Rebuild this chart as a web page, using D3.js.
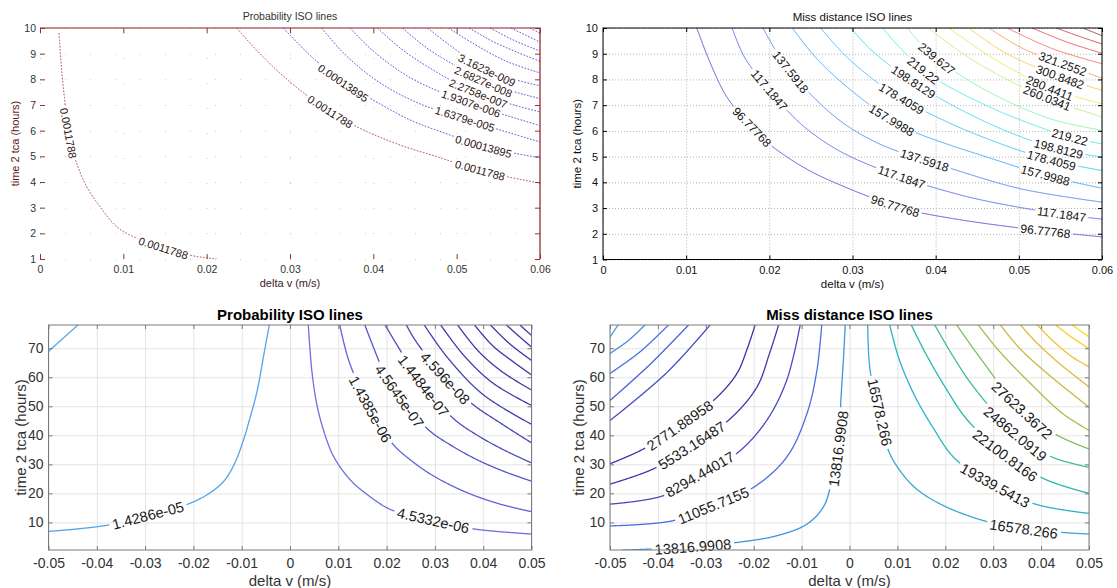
<!DOCTYPE html>
<html>
<head>
<meta charset="utf-8">
<script src="https://cdnjs.cloudflare.com/ajax/libs/d3/7.8.5/d3.min.js"></script>
<style>
  body { margin: 0; background: #fff; }
  svg { display: block; }
</style>
</head>
<body>
<svg id="chart" width="1117" height="588"></svg>
<script>
// ---------------- data ----------------

// top left: probability iso lines (old style plot)
const p1XTicks = [0, 0.01, 0.02, 0.03, 0.04, 0.05, 0.06];
const p1YTicks = [1, 2, 3, 4, 5, 6, 7, 8, 9, 10];
const p1Levels = ["0.0011788", "0.0011788", "0.00013895", "1.6379e-005", "1.9307e-006",
                  "2.2758e-007", "2.6827e-008", "3.1623e-009", null, null, null, null, null];
const p1Lines = [
  [[0.00228, 9.8], [0.0026, 8.36], [0.003, 7.07], [0.0034, 5.9], [0.0044, 4.73], [0.0056, 3.82], [0.0072, 3.04],
   [0.0092, 2.26], [0.0112, 1.87], [0.0148, 1.42], [0.0184, 1.12], [0.0212, 1.0]],
  [[0.0236, 10], [0.0256, 9.27], [0.0284, 8.36], [0.0312, 7.58], [0.0348, 6.74], [0.0384, 6.09], [0.0432, 5.44],
   [0.0476, 4.99], [0.0528, 4.45], [0.06, 3.95]],
  [[0.0292, 10], [0.0322, 9.0], [0.0364, 7.85], [0.0396, 7.26], [0.0444, 6.42], [0.0492, 5.83], [0.0532, 5.38], [0.06, 4.94]],
  [[0.0338, 10], [0.0365, 9.0], [0.0404, 7.95], [0.0452, 7.1], [0.051, 6.45], [0.06, 5.56]],
  [[0.0372, 10], [0.040, 9.1], [0.0445, 8.05], [0.0517, 7.05], [0.06, 6.2]],
  [[0.0405, 10], [0.0435, 9.15], [0.0475, 8.3], [0.0526, 7.44], [0.06, 6.73]],
  [[0.0435, 10], [0.0465, 9.2], [0.05, 8.5], [0.0532, 7.9], [0.06, 7.25]],
  [[0.0465, 10], [0.0495, 9.25], [0.0536, 8.35], [0.06, 7.75]],
  [[0.049, 10], [0.0525, 9.3], [0.056, 8.7], [0.06, 8.25]],
  [[0.0515, 10], [0.0545, 9.45], [0.06, 8.7]],
  [[0.054, 10], [0.057, 9.5], [0.06, 9.1]],
  [[0.0565, 10], [0.06, 9.45]],
  [[0.0588, 10], [0.06, 9.8]]
];
// [line index, x, y] of each inline label
const p1Labels = [[0, 0.0034, 5.9], [0, 0.0148, 1.42], [1, 0.0348, 6.74], [1, 0.0528, 4.45], [2, 0.0364, 7.85],
                  [2, 0.0532, 5.38], [3, 0.051, 6.45], [4, 0.0517, 7.05], [5, 0.0526, 7.44], [6, 0.0532, 7.9], [7, 0.0536, 8.35]];

// top right: miss distance iso lines
const p2XTicks = [0, 0.01, 0.02, 0.03, 0.04, 0.05, 0.06];
const p2YTicks = [1, 2, 3, 4, 5, 6, 7, 8, 9, 10];
const p2Levels = ["96.77768", "117.1847", "137.5918", "157.9988", "178.4059", "198.8129", "219.22", "239.627",
                  "260.0341", "280.4411", "300.8482", "321.2552", null, null, null, null];
const p2Lines = [
  [[0.01128, 10], [0.01277, 8.74], [0.01489, 7.32], [0.01787, 6.16], [0.02043, 5.38], [0.02468, 4.48], [0.02894, 3.84],
   [0.0347, 3.12], [0.03745, 2.87], [0.0417, 2.61], [0.04596, 2.4], [0.05021, 2.22], [0.0532, 2.1], [0.06, 1.88]],
  [[0.01553, 10], [0.017, 8.87], [0.02, 7.58], [0.02213, 6.8], [0.02468, 6.03], [0.02894, 5.13], [0.0359, 4.2],
   [0.0417, 3.62], [0.046, 3.28], [0.0551, 2.76], [0.06, 2.57]],
  [[0.01923, 10], [0.0209, 9.05], [0.02255, 8.29], [0.0255, 7.25], [0.0289, 6.3], [0.0332, 5.5], [0.0387, 4.85],
   [0.0417, 4.55], [0.0502, 3.75], [0.06, 3.23]],
  [[0.02277, 10], [0.02553, 8.87], [0.0289, 7.83], [0.0347, 6.41], [0.0375, 5.95], [0.0417, 5.45], [0.046, 5.0],
   [0.0532, 4.27], [0.06, 3.77]],
  [[0.02617, 10], [0.02894, 8.99], [0.0325, 8.0], [0.0359, 7.25], [0.0417, 6.3], [0.046, 5.72], [0.05, 5.25],
   [0.0539, 4.85], [0.06, 4.46]],
  [[0.02979, 10], [0.03234, 9.12], [0.0373, 7.9], [0.0417, 7.05], [0.046, 6.35], [0.05, 5.8], [0.0547, 5.3], [0.06, 4.98]],
  [[0.0336, 10], [0.0358, 9.2], [0.0385, 8.35], [0.0417, 7.7], [0.046, 7.0], [0.05, 6.45], [0.0561, 5.76], [0.06, 5.5]],
  [[0.0366, 10], [0.0383, 9.35], [0.0401, 8.81], [0.0438, 8.0], [0.048, 7.25], [0.054, 6.45], [0.06, 6.02]],
  [[0.0391, 10], [0.0435, 8.95], [0.048, 8.1], [0.0532, 7.3], [0.06, 6.54]],
  [[0.0416, 10], [0.046, 9.0], [0.05, 8.25], [0.0536, 7.67], [0.06, 7.05]],
  [[0.044, 10], [0.048, 9.1], [0.0549, 8.1], [0.06, 7.58]],
  [[0.0464, 10], [0.0505, 9.2], [0.0553, 8.6], [0.06, 8.05]],
  [[0.0486, 10], [0.054, 9.2], [0.06, 8.61]],
  [[0.0516, 10], [0.0558, 9.45], [0.06, 9.02]],
  [[0.0545, 10], [0.0575, 9.65], [0.06, 9.38]],
  [[0.0577, 10], [0.06, 9.7]]
];
const p2Labels = [[0, 0.0179, 6.16], [0, 0.0351, 3.04], [0, 0.0532, 2.1], [1, 0.0200, 7.58], [1, 0.0359, 4.2],
                  [1, 0.0551, 2.71], [2, 0.02255, 8.29], [2, 0.0387, 4.91], [3, 0.0347, 6.41], [3, 0.0532, 4.27],
                  [4, 0.0359, 7.25], [4, 0.0539, 4.85], [5, 0.0373, 7.9], [5, 0.0547, 5.24], [6, 0.0385, 8.35],
                  [6, 0.0561, 5.76], [7, 0.0401, 8.81], [8, 0.0532, 7.12], [9, 0.0536, 7.57], [10, 0.0549, 8.05],
                  [11, 0.0553, 8.61]];

// bottom left: probability iso lines (new style plot)
const p3XTicks = [-0.05, -0.04, -0.03, -0.02, -0.01, 0, 0.01, 0.02, 0.03, 0.04, 0.05];
const p3YTicks = [10, 20, 30, 40, 50, 60, 70];
const p3Levels = [null, "1.4286e-05", "4.5332e-06", "1.4385e-06", "4.5645e-07", "1.4484e-07", "4.596e-08",
                  null, null, null, null, null, null, null];
const p3Lines = [
  [[-0.05, 68.9], [-0.0472, 73.1], [-0.0439, 78]],
  [[-0.05, 6.9], [-0.0379, 9.0], [-0.0294, 12.4], [-0.0213, 16.2], [-0.0172, 19.5], [-0.0138, 24.0], [-0.0117, 29.5],
   [-0.0098, 37.5], [-0.0082, 46.5], [-0.0068, 55.3], [-0.0054, 67.9], [-0.0043, 78]],
  [[0.00379, 78], [0.0045, 62.6], [0.0055, 51.1], [0.0069, 42.0], [0.009, 32.8], [0.0124, 24.8], [0.0159, 19.7],
   [0.021, 14.3], [0.0297, 10.6], [0.0383, 7.7], [0.05, 6.0]],
  [[0.0103, 78], [0.0117, 68.3], [0.013, 62.0], [0.0166, 49.0], [0.0214, 36.8], [0.0248, 31.7], [0.0297, 26.0],
   [0.0366, 20.3], [0.0435, 16.3], [0.05, 13.7]],
  [[0.0155, 78], [0.0174, 69.8], [0.019, 63.5], [0.0226, 53.5], [0.0286, 42.0], [0.0331, 36.8], [0.0386, 31.7],
   [0.0441, 27.7], [0.05, 24.2]],
  [[0.0197, 78], [0.0222, 71.0], [0.0276, 57.0], [0.0341, 45.4], [0.0386, 40.2], [0.0441, 35.1], [0.05, 30.5]],
  [[0.0241, 78], [0.0259, 72.8], [0.0321, 59.7], [0.0379, 50.6], [0.0435, 44.3], [0.05, 37.4]],
  [[0.0278, 78], [0.0325, 67], [0.040, 54.0], [0.05, 43.8]],
  [[0.0312, 78], [0.036, 67.5], [0.042, 58.0], [0.05, 50.3]],
  [[0.0347, 78], [0.039, 69.0], [0.044, 61.8], [0.05, 55.6]],
  [[0.0382, 78], [0.042, 70.8], [0.046, 65.6], [0.05, 60.8]],
  [[0.0415, 78], [0.0455, 71.5], [0.05, 65.8]],
  [[0.0448, 78], [0.0475, 74.0], [0.05, 70.4]],
  [[0.0476, 78], [0.05, 74.4]]
];
const p3Labels = [[1, -0.0294, 12.4], [2, 0.0297, 10.6], [3, 0.0166, 49.0], [4, 0.0226, 53.5],
                  [5, 0.0276, 57.0], [6, 0.0321, 59.7]];

// bottom right: miss distance iso lines
const p4XTicks = [-0.05, -0.04, -0.03, -0.02, -0.01, 0, 0.01, 0.02, 0.03, 0.04, 0.05];
const p4YTicks = [10, 20, 30, 40, 50, 60, 70];
const p4Levels = [null, null, null, null, null, "2771.88958", "5533.16487", "8294.44017", "11055.7155", "13816.9908",
                  "16578.266", "19339.5413", "22100.8166", "24862.0919", "27623.3672", null, null, null, null, null, null];
const p4Lines = [
  [[-0.05, 73.9], [-0.0483, 78]],
  [[-0.05, 68.2], [-0.0462, 72.6], [-0.0427, 78]],
  [[-0.05, 61.3], [-0.0437, 68.8], [-0.0378, 78]],
  [[-0.05, 52], [-0.0416, 64.5], [-0.0336, 78]],
  [[-0.05, 45.1], [-0.0382, 61.5], [-0.0291, 78]],
  [[-0.05, 30.2], [-0.043, 35.3], [-0.0354, 43.4], [-0.028, 52.6], [-0.0235, 61.3], [-0.0214, 69.6], [-0.0197, 78]],
  [[-0.05, 23.2], [-0.041, 28.4], [-0.0329, 36.5], [-0.0249, 45.7], [-0.0193, 56.7], [-0.0167, 68.2], [-0.0148, 78]],
  [[-0.05, 16.3], [-0.0389, 19.2], [-0.0312, 26.5], [-0.0232, 34.2], [-0.0173, 45.1], [-0.0131, 59], [-0.0103, 78]],
  [[-0.05, 8.8], [-0.0368, 10.6], [-0.0284, 15.8], [-0.020, 22.1], [-0.0131, 32.5], [-0.0089, 47.4], [-0.0068, 62.4],
   [-0.0058, 78]],
  [[-0.0475, 0.45], [-0.0327, 1.55], [-0.0235, 3.1], [-0.0152, 5.4], [-0.0089, 9.4], [-0.0055, 15.2], [-0.004, 22.1],
   [-0.0023, 35.3], [-0.0018, 52], [-0.0012, 68.2], [-0.0009, 78]],
  [[0.0038, 78], [0.0043, 62.4], [0.0063, 48.0], [0.008, 35.3], [0.0105, 27.9], [0.014, 21.5], [0.0196, 15.8],
   [0.028, 10.6], [0.0364, 7.7], [0.0448, 6.5], [0.05, 6.0]],
  [[0.0084, 78], [0.0103, 66.5], [0.0135, 54.0], [0.0175, 42.5], [0.022, 32.0], [0.0304, 22.7], [0.0388, 16.3], [0.05, 13.1]],
  [[0.0129, 78], [0.0158, 68.5], [0.0200, 56.5], [0.0245, 45.5], [0.0325, 33.0], [0.0409, 24.8], [0.05, 20]],
  [[0.0178, 78], [0.0217, 67], [0.0259, 56.7], [0.0346, 40.5], [0.0423, 32.5], [0.05, 29]],
  [[0.0224, 78], [0.0266, 68.2], [0.036, 48.6], [0.0434, 40], [0.05, 35.3]],
  [[0.0269, 78], [0.031, 69.5], [0.038, 57.5], [0.0445, 47.5], [0.05, 41.7]],
  [[0.0315, 78], [0.0355, 70.0], [0.0415, 61.0], [0.05, 49.7]],
  [[0.0357, 78], [0.039, 72.0], [0.044, 64.5], [0.05, 56.7]],
  [[0.0392, 78], [0.0425, 72.5], [0.0465, 67.0], [0.05, 63.6]],
  [[0.043, 78], [0.0468, 73.3], [0.05, 69.9]],
  [[0.0465, 78], [0.05, 73.9]]
];
const p4Labels = [[5, -0.0354, 43.4], [6, -0.0329, 36.5], [7, -0.0312, 26.5], [8, -0.0284, 15.8], [9, -0.0327, 1.55],
                  [9, -0.0023, 35.3], [10, 0.0063, 48.0], [10, 0.0364, 7.7], [11, 0.0304, 22.7], [12, 0.0325, 33.0],
                  [13, 0.0346, 40.5], [14, 0.036, 48.6]];

// ---------------- line colours ----------------
const p1Colors = ["#a83434", "#a83434"].concat(d3.range(11).map(() => "#3434d8"));
const p2Colors = ["#5252d2", "#5a6ce6", "#4f86f2", "#42a2f8", "#3dc0f8", "#38daf0", "#50eada", "#88f0aa",
                  "#bcef78", "#e6e658", "#f8c848", "#f89a50", "#f07460", "#e65252", "#c84444", "#a03a3a"];
const p3Colors = ["#52a5ea", "#52a5ea", "#6f6fe2", "#6262da", "#5656cf", "#4d4dc4", "#4646ba", "#4242b2",
                  "#3f3cab", "#3d39a7", "#3c37a5", "#3c37a5", "#3c37a5", "#3c37a5"];
const p4Colors = ["#4fa0e2", "#4b8ae0", "#4a74da", "#4a5fd2", "#4649c4", "#3e33a6", "#4038b0", "#4a4ac6",
                  "#4a6fe0", "#3d95e0", "#3aa6d8", "#2db3c6", "#27b8ad", "#40be92", "#80be62", "#a9bd4e",
                  "#c8b944", "#dfb93b", "#eec134", "#f5cf2c", "#f8e026"];

// ---------------- drawing ----------------
const FONT = '"Liberation Sans", Arial, Helvetica, sans-serif';
const svg = d3.select("#chart");
const defs = svg.append("defs");

function panel(o) {
  const x = d3.scaleLinear().domain(o.xDomain).range([o.left, o.right]);
  const y = d3.scaleLinear().domain(o.yDomain).range([o.bottom, o.top]);
  const w = o.right - o.left, h = o.bottom - o.top;
  const root = svg.append("g").attr("font-family", FONT);

  // grid
  if (o.grid) {
    const gx = root.append("g").attr("transform", `translate(0,${o.bottom})`)
      .call(d3.axisBottom(x).tickValues(o.xTicks).tickSize(-h).tickFormat(""));
    const gy = root.append("g").attr("transform", `translate(${o.left},0)`)
      .call(d3.axisLeft(y).tickValues(o.yTicks).tickSize(-w).tickFormat(""));
    [gx, gy].forEach(a => {
      a.select(".domain").remove();
      a.selectAll("line").attr("stroke", o.grid.color).attr("stroke-dasharray", o.grid.dash || null);
    });
  }

  // contour lines with gaps for the inline labels
  const clipId = "clip-" + o.name;
  defs.append("clipPath").attr("id", clipId).append("rect")
    .attr("x", o.left).attr("y", o.top).attr("width", w).attr("height", h);
  const lineLayer = root.append("g").attr("clip-path", `url(#${clipId})`);
  const labelLayer = root.append("g");
  const gen = d3.line().x(d => x(d[0])).y(d => y(d[1])).curve(d3.curveCatmullRom.alpha(0.5));
  const step = 0.5;

  o.lines.forEach((pts, i) => {
    const probe = lineLayer.append("path").attr("d", gen(pts)).attr("fill", "none");
    const node = probe.node();
    const L = node.getTotalLength();
    const n = Math.ceil(L / step);
    const samp = d3.range(n + 1).map(k => {
      const s = Math.min(k * step, L);
      const p = node.getPointAtLength(s);
      return [p.x, p.y, s];
    });
    probe.remove();

    const gaps = [];
    o.labels.filter(l => l[0] === i).forEach(l => {
      const px = x(l[1]), py = y(l[2]);
      const c = d3.minIndex(samp, p => (p[0] - px) ** 2 + (p[1] - py) ** 2);
      const t = labelLayer.append("text").text(o.levels[i])
        .attr("font-size", o.labelSize).attr("fill", o.labelColor);
      const tw = t.node().getComputedTextLength();
      const half = tw / 2 / step;
      const a = samp[Math.max(0, Math.round(c - half))];
      const b = samp[Math.min(n, Math.round(c + half))];
      let ang = Math.atan2(b[1] - a[1], b[0] - a[0]) * 180 / Math.PI;
      if (ang > 90) ang -= 180;
      if (ang <= -90) ang += 180;
      const m = samp[c];
      t.attr("text-anchor", "middle").attr("dy", "0.35em")
        .attr("transform", `translate(${m[0]},${m[1]}) rotate(${ang})`);
      gaps.push([m[2] - tw / 2 - o.gapPad, m[2] + tw / 2 + o.gapPad]);
    });

    const runs = [];
    let cur = [];
    samp.forEach(p => {
      if (gaps.some(gp => p[2] > gp[0] && p[2] < gp[1])) {
        if (cur.length > 1) runs.push(cur);
        cur = [];
      } else cur.push([p[0], p[1]]);
    });
    if (cur.length > 1) runs.push(cur);
    runs.forEach(r => lineLayer.append("path")
      .attr("d", d3.line()(r))
      .attr("fill", "none")
      .attr("stroke", o.colors[i])
      .attr("stroke-width", o.lineWidth)
      .attr("stroke-dasharray", o.dash || null));
  });

  // box
  if (o.boxSides === "topright") {
    root.append("path")
      .attr("d", `M${o.left},${o.top}H${o.right}V${o.bottom}`)
      .attr("fill", "none").attr("stroke", o.boxColor).attr("stroke-width", 1.2);
  } else {
    root.append("rect").attr("x", o.left).attr("y", o.top).attr("width", w).attr("height", h)
      .attr("fill", "none").attr("stroke", o.boxColor).attr("stroke-width", 1);
  }

  // axes with inward ticks
  const fmt = d => String(d);
  const ax = root.append("g").attr("transform", `translate(0,${o.bottom})`)
    .call(d3.axisBottom(x).tickValues(o.xTicks).tickSizeInner(-o.tickLen).tickSizeOuter(0)
      .tickPadding(o.xLabelGap - 0.71 * o.tickSize).tickFormat(fmt));
  const ay = root.append("g").attr("transform", `translate(${o.left},0)`)
    .call(d3.axisLeft(y).tickValues(o.yTicks).tickSizeInner(-o.tickLen).tickSizeOuter(0)
      .tickPadding(o.yLabelGap).tickFormat(fmt));
  const at = root.append("g").attr("transform", `translate(0,${o.top})`)
    .call(d3.axisTop(x).tickValues(o.xTicks).tickSizeInner(-o.tickLen).tickSizeOuter(0).tickFormat(""));
  const ar = root.append("g").attr("transform", `translate(${o.right},0)`)
    .call(d3.axisRight(y).tickValues(o.yTicks).tickSizeInner(-o.tickLen).tickSizeOuter(0).tickFormat(""));
  [ax, ay, at, ar].forEach(a => {
    a.select(".domain").remove();
    a.selectAll("line").attr("stroke", o.tickColor);
    a.selectAll("text").attr("font-family", FONT).attr("font-size", o.tickSize).attr("fill", o.tickTextColor);
  });

  // titles
  const cx = (o.left + o.right) / 2, cy = (o.top + o.bottom) / 2;
  root.append("text").text(o.title).attr("x", cx).attr("y", o.titleY)
    .attr("text-anchor", "middle").attr("font-size", o.titleSize)
    .attr("font-weight", o.titleWeight).attr("fill", o.titleColor);
  root.append("text").text("delta v (m/s)").attr("x", cx).attr("y", o.xTitleY)
    .attr("text-anchor", "middle").attr("font-size", o.axisTitleSize).attr("fill", o.xTitleColor);
  root.append("text").text("time 2 tca (hours)")
    .attr("transform", `translate(${o.yTitleX},${cy}) rotate(-90)`)
    .attr("text-anchor", "middle").attr("font-size", o.axisTitleSize).attr("fill", o.yTitleColor);
}

panel({
  name: "p1", left: 40, right: 540, top: 28, bottom: 259,
  xDomain: [0, 0.06], yDomain: [1, 10], xTicks: p1XTicks, yTicks: p1YTicks,
  lines: p1Lines, levels: p1Levels, labels: p1Labels, colors: p1Colors,
  grid: { color: "#c8c8c8", dash: "1,24" },
  lineWidth: 1, dash: "1.6,1.6", labelSize: 11, labelColor: "#2a1212", gapPad: 2,
  boxSides: "topright", boxColor: "#8b1e1e", tickLen: 5, tickColor: "#9a3030",
  tickSize: 10.5, tickTextColor: "#333", xLabelGap: 14, yLabelGap: 4,
  title: "Probability ISO lines", titleY: 20, titleSize: 10.5, titleWeight: "normal", titleColor: "#333",
  xTitleY: 287, yTitleX: 19, axisTitleSize: 11, xTitleColor: "#3a1c1c", yTitleColor: "#5e1a1a"
});

panel({
  name: "p2", left: 603, right: 1102, top: 28, bottom: 259.5,
  xDomain: [0, 0.06], yDomain: [1, 10], xTicks: p2XTicks, yTicks: p2YTicks,
  lines: p2Lines, levels: p2Levels, labels: p2Labels, colors: p2Colors,
  grid: { color: "#b4b4b4", dash: "1,2" },
  lineWidth: 1, dash: null, labelSize: 12, labelColor: "#111", gapPad: 2,
  boxSides: "all", boxColor: "#000", tickLen: 4, tickColor: "#000",
  tickSize: 11, tickTextColor: "#111", xLabelGap: 14.5, yLabelGap: 5,
  title: "Miss distance ISO lines", titleY: 21, titleSize: 11.5, titleWeight: "normal", titleColor: "#111",
  xTitleY: 288, yTitleX: 581, axisTitleSize: 11.5, xTitleColor: "#111", yTitleColor: "#111"
});

panel({
  name: "p3", left: 48.5, right: 531.5, top: 325, bottom: 550,
  xDomain: [-0.05, 0.05], yDomain: [0.5, 78], xTicks: p3XTicks, yTicks: p3YTicks,
  lines: p3Lines, levels: p3Levels, labels: p3Labels, colors: p3Colors,
  grid: { color: "#e4e4e4", dash: null },
  lineWidth: 1.3, dash: null, labelSize: 14.5, labelColor: "#1a1a1a", gapPad: 3,
  boxSides: "all", boxColor: "#7a7a7a", tickLen: 4, tickColor: "#7a7a7a",
  tickSize: 14, tickTextColor: "#333", xLabelGap: 18, yLabelGap: 5,
  title: "Probability ISO lines", titleY: 320, titleSize: 15, titleWeight: "bold", titleColor: "#000",
  xTitleY: 586, yTitleX: 26, axisTitleSize: 15, xTitleColor: "#333", yTitleColor: "#333"
});

panel({
  name: "p4", left: 610, right: 1089, top: 325, bottom: 550,
  xDomain: [-0.05, 0.05], yDomain: [0.5, 78], xTicks: p4XTicks, yTicks: p4YTicks,
  lines: p4Lines, levels: p4Levels, labels: p4Labels, colors: p4Colors,
  grid: { color: "#e4e4e4", dash: null },
  lineWidth: 1.3, dash: null, labelSize: 14.5, labelColor: "#1a1a1a", gapPad: 3,
  boxSides: "all", boxColor: "#7a7a7a", tickLen: 4, tickColor: "#7a7a7a",
  tickSize: 14, tickTextColor: "#333", xLabelGap: 18, yLabelGap: 5,
  title: "Miss distance ISO lines", titleY: 320, titleSize: 15, titleWeight: "bold", titleColor: "#000",
  xTitleY: 586, yTitleX: 584, axisTitleSize: 15, xTitleColor: "#333", yTitleColor: "#333"
});
</script>
</body>
</html>
